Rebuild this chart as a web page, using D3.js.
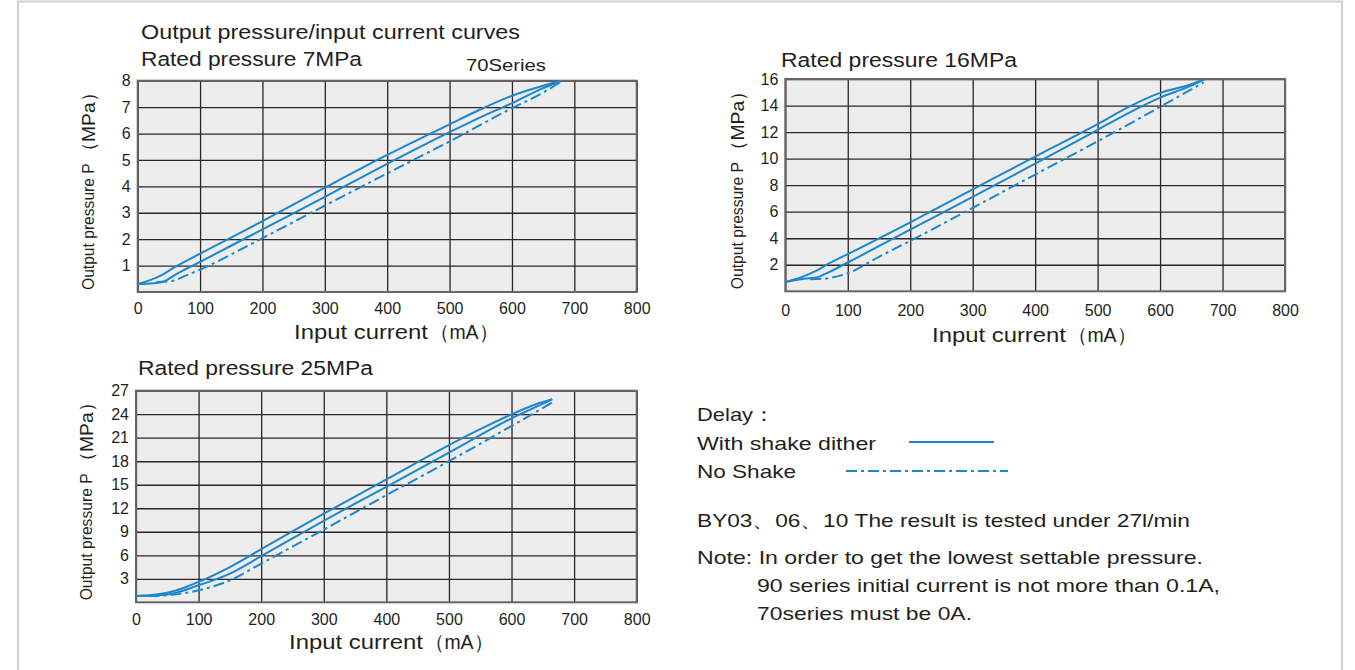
<!DOCTYPE html>
<html>
<head>
<meta charset="utf-8">
<script src="https://cdn.jsdelivr.net/npm/d3@7"></script>
<style>
    body { margin: 0; background: #fff; }
    text { font-family: "Liberation Sans", Arial, sans-serif; fill: #231f20; }
</style>
</head>
<body>
<svg id="chart" width="1355" height="670"></svg>
<script>
"use strict";

// input current ticks (mA), shared by all three panels
const currentTicks = [0, 100, 200, 300, 400, 500, 600, 700, 800];

// pressure ticks (MPa) per rated pressure
const ticks7 = [1, 2, 3, 4, 5, 6, 7, 8];
const ticks16 = [2, 4, 6, 8, 10, 12, 14, 16];
const ticks25 = [3, 6, 9, 12, 15, 18, 21, 24, 27];

// [current mA, pressure MPa]
const dither7Up = [[0, 0.3], [20, 0.45], [40, 0.66], [60, 0.95], [100, 1.45], [200, 2.68], [300, 3.95],
    [400, 5.19], [500, 6.35], [550, 6.92], [600, 7.43], [650, 7.81], [680, 8.0]];
const dither7Down = [[0, 0.3], [25, 0.33], [42, 0.4], [60, 0.65], [100, 1.14], [200, 2.37], [300, 3.6],
    [400, 4.85], [500, 6.05], [550, 6.62], [600, 7.15], [650, 7.72], [680, 8.0]];
const noShake7 = [[30, 0.38], [55, 0.42], [75, 0.6], [100, 0.85], [200, 2.04], [300, 3.27],
    [400, 4.49], [500, 5.7], [600, 6.96], [650, 7.55], [678, 7.95]];

const dither16Up = [[0, 0.7], [25, 1.05], [50, 1.55], [70, 2.1], [100, 2.8], [200, 5.2], [300, 7.68],
    [400, 10.15], [500, 12.6], [550, 13.9], [600, 14.95], [650, 15.6], [670, 15.96]];
const dither16Down = [[0, 0.7], [30, 0.95], [50, 1.05], [70, 1.45], [100, 2.17], [200, 4.65], [300, 7.12],
    [400, 9.62], [500, 12.17], [550, 13.45], [600, 14.6], [650, 15.5], [670, 15.96]];
const noShake16 = [[40, 0.9], [70, 1.0], [100, 1.36], [150, 2.6], [200, 3.8], [300, 6.29],
    [400, 8.8], [500, 11.3], [600, 13.9], [670, 15.75]];

const dither25Up = [[0, 0.8], [50, 1.23], [80, 1.96], [100, 2.6], [150, 4.5], [200, 6.77], [300, 11.3],
    [400, 15.67], [500, 20.06], [550, 22.1], [600, 23.98], [640, 25.3], [665, 25.9]];
const dither25Down = [[0, 0.8], [50, 1.0], [100, 2.17], [150, 3.66], [200, 5.88], [300, 10.4],
    [400, 14.74], [500, 19.1], [600, 23.47], [640, 24.96], [665, 25.9]];
const noShake25 = [[20, 0.8], [50, 0.9], [100, 1.53], [150, 2.8], [200, 4.94], [300, 9.28],
    [400, 13.67], [500, 18.0], [600, 22.5], [665, 25.5]];

const BLUE = "#1b87cc";
const DASHDOT = "11,4,3,4";

const svg = d3.select("#chart");

// page frame
svg.append("path")
    .attr("d", "M18,670 V1.5 H1342 V670")
    .attr("fill", "none")
    .attr("stroke", "#d2d2d2")
    .attr("stroke-width", 2);

/**
 * Put a text whose width is forced to match the catalogue.
 */
function label(x, y, str, size, width, anchor) {
    const t = svg.append("text")
        .attr("x", x)
        .attr("y", y)
        .style("font-size", size + "px")
        .attr("text-anchor", anchor || "start")
        .text(str);
    if (width) {
        t.attr("textLength", width).attr("lengthAdjust", "spacingAndGlyphs");
    }
    return t;
}

/**
 * Draw one pressure / current panel with its grid, axes and three curves.
 */
function drawPanel(cfg) {
    const x = d3.scaleLinear().domain([0, 800]).range([cfg.left, cfg.right]);
    const y = d3.scaleLinear().domain([0, cfg.yMax]).range([cfg.bottom, cfg.top]);
    const g = svg.append("g");

    g.append("rect")
        .attr("x", cfg.left).attr("y", cfg.top)
        .attr("width", cfg.right - cfg.left).attr("height", cfg.bottom - cfg.top)
        .attr("fill", "#ededed");

    // grid
    g.append("g")
        .attr("transform", `translate(0,${cfg.bottom})`)
        .call(d3.axisBottom(x).tickValues(currentTicks).tickSize(-(cfg.bottom - cfg.top)).tickFormat(""))
        .call(a => a.select(".domain").remove())
        .selectAll("line").attr("stroke", "#2e2626").attr("stroke-width", 1.3);
    g.append("g")
        .attr("transform", `translate(${cfg.left},0)`)
        .call(d3.axisLeft(y).tickValues(cfg.yTicks).tickSize(-(cfg.right - cfg.left)).tickFormat(""))
        .call(a => a.select(".domain").remove())
        .selectAll("line").attr("stroke", "#2e2626").attr("stroke-width", 1.3);

    g.append("rect")
        .attr("x", cfg.left).attr("y", cfg.top)
        .attr("width", cfg.right - cfg.left).attr("height", cfg.bottom - cfg.top)
        .attr("fill", "none")
        .attr("stroke", "#6b6363")
        .attr("stroke-width", 2);

    // tick labels
    g.append("g")
        .attr("transform", `translate(0,${cfg.bottom + cfg.xLabelGap})`)
        .call(d3.axisBottom(x).tickValues(currentTicks).tickSize(0).tickPadding(0))
        .call(a => a.select(".domain").remove())
        .selectAll("text")
        .style("font-size", "16px").attr("fill", "#231f20");
    g.append("g")
        .attr("transform", `translate(${cfg.left - 7},0)`)
        .call(d3.axisLeft(y).tickValues(cfg.yTicks).tickSize(0).tickPadding(0))
        .call(a => a.select(".domain").remove())
        .selectAll("text")
        .style("font-size", "16px").attr("fill", "#231f20");

    // curves
    const line = d3.line()
        .x(d => x(d[0]))
        .y(d => y(d[1]))
        .curve(d3.curveMonotoneX);
    g.selectAll("path.curve")
        .data(cfg.series)
        .join("path")
        .attr("class", "curve")
        .attr("d", d => line(d.values))
        .attr("fill", "none")
        .attr("stroke", BLUE)
        .attr("stroke-width", 2)
        .attr("stroke-dasharray", d => d.dashed ? DASHDOT : null);

    // titles
    label(cfg.titleX, cfg.titleY, cfg.title, 20, cfg.titleW);
    label(cfg.xTitleX, cfg.xTitleY, "Input current", 20, 134);
    label(cfg.xTitleX + 136, cfg.xTitleY, "（mA）", 20, 68);

    // y title: narrow "Output pressure P" then wider "(MPa)"
    const span = cfg.bottom - cfg.top;
    label(0, 0, "Output pressure P", 17, span * 0.6)
        .attr("transform", `translate(${cfg.yTitleX},${cfg.bottom - 2}) rotate(-90)`);
    label(0, 0, "（MPa）", 19, span * 0.37)
        .attr("transform", `translate(${cfg.yTitleX + 1},${cfg.bottom - 4 - span * 0.6}) rotate(-90)`);
}

drawPanel({
    left: 137.7, right: 636.7, top: 80.7, bottom: 292, yMax: 8, yTicks: ticks7,
    xLabelGap: 11, title: "Rated pressure 7MPa", titleX: 141, titleY: 66, titleW: 221,
    xTitleX: 294, xTitleY: 339, yTitleX: 94,
    series: [
        {values: dither7Up}, {values: dither7Down}, {values: noShake7, dashed: true}
    ]
});
drawPanel({
    left: 785.3, right: 1285, top: 79, bottom: 291.3, yMax: 16, yTicks: ticks16,
    xLabelGap: 13, title: "Rated pressure 16MPa", titleX: 781, titleY: 67, titleW: 236,
    xTitleX: 932, xTitleY: 342, yTitleX: 743,
    series: [
        {values: dither16Up}, {values: dither16Down}, {values: noShake16, dashed: true}
    ]
});
drawPanel({
    left: 136, right: 636.7, top: 390.7, bottom: 602.3, yMax: 27, yTicks: ticks25,
    xLabelGap: 11, title: "Rated pressure 25MPa", titleX: 138, titleY: 375, titleW: 235,
    xTitleX: 289, xTitleY: 649, yTitleX: 92,
    series: [
        {values: dither25Up}, {values: dither25Down}, {values: noShake25, dashed: true}
    ]
});

// headings of the first panel
label(141, 39, "Output pressure/input current curves", 20, 379);
label(466, 71, "70Series", 16, 80);

// legend and notes
label(697, 421, "Delay：", 19, 78);
label(697, 450, "With shake dither", 19, 179);
label(697, 478, "No Shake", 19, 99);
svg.append("line")
    .attr("x1", 909).attr("x2", 994).attr("y1", 442).attr("y2", 442)
    .attr("stroke", BLUE).attr("stroke-width", 2);
svg.append("line")
    .attr("x1", 846).attr("x2", 1008).attr("y1", 471).attr("y2", 471)
    .attr("stroke", BLUE).attr("stroke-width", 2).attr("stroke-dasharray", DASHDOT);

label(697, 527, "BY03、06、10 The result is tested under 27l/min", 19, 493);
label(697, 564, "Note: In order to get the lowest settable pressure.", 19, 506);
label(757, 592, "90 series initial current is not more than 0.1A,", 19, 463);
label(757, 620, "70series must be 0A.", 19, 215);
</script>
</body>
</html>
